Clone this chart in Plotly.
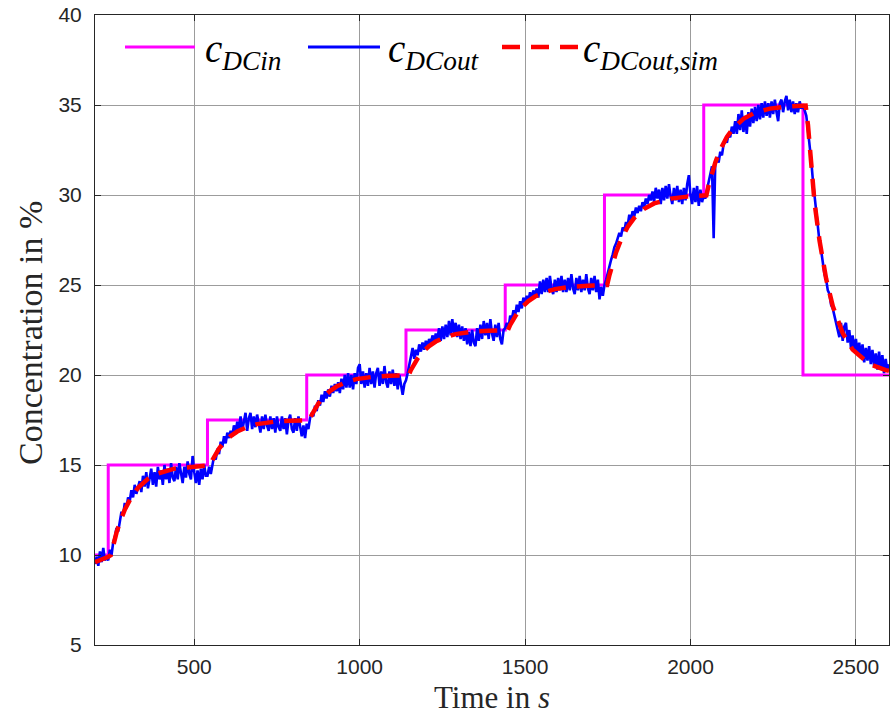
import numpy as np
import plotly.graph_objects as go

# ---- inlet concentration set-points (step profile) ----
t_in = [200, 240, 540, 840, 1140, 1440, 1740, 2040, 2340, 2600]
c_in = [10.0, 15.0, 17.5, 20.0, 22.5, 25.0, 30.0, 35.0, 20.0, 20.0]

# ---- measured outlet concentration, sampled every 5 s from 200 s to 2600 s ----
t_meas_start, t_meas_step = 200, 5
c_out = [
    # 200-235
    9.5, 9.9, 9.4, 10.2, 9.6, 10.4, 9.7, 9.9,
    # 240-535
    9.7, 10.3, 10.0, 10.7, 11.0, 11.5, 11.3, 12.0, 12.4, 12.2,
    12.9, 12.6, 13.2, 13.0, 13.6, 13.2, 13.9, 13.4, 13.8, 14.1,
    13.5, 14.4, 13.8, 14.6, 13.7, 14.3, 14.8, 13.9, 14.6, 13.8,
    14.9, 14.2, 14.7, 13.9, 15.0, 14.2, 14.8, 14.0, 15.1, 14.3,
    14.1, 14.9, 14.2, 15.1, 14.4, 14.0, 14.9, 14.3, 15.2, 14.5,
    14.2, 15.5, 14.6, 14.0, 14.7, 13.9, 14.8, 14.2, 15.0, 14.4,
    # 540-835
    14.4, 14.9, 14.5, 15.1, 15.5, 15.3, 15.9, 15.6, 16.3, 16.0,
    16.6, 16.2, 16.8, 16.5, 16.9, 16.6, 17.2, 16.8, 17.4, 17.0,
    17.7, 16.9, 17.4, 17.9, 16.9, 17.6, 17.9, 17.0, 17.7, 17.1,
    17.8, 17.2, 16.8, 17.7, 17.0, 17.8, 17.2, 16.9, 17.7, 17.0,
    17.6, 16.8, 17.7, 17.1, 16.9, 17.7, 17.0, 17.6, 16.7, 17.5,
    17.8, 17.0, 16.8, 17.6, 16.9, 17.7, 17.1, 16.6, 17.2, 16.5,
    # 840-1135
    17.3, 17.0, 17.6, 17.9, 17.7, 18.3, 18.0, 18.6, 18.3, 18.9,
    18.5, 19.1, 18.7, 19.2, 18.8, 19.4, 19.0, 19.5, 19.1, 19.6,
    19.0, 19.8, 19.2, 20.0, 19.3, 20.1, 19.3, 20.0, 19.2, 20.1,
    19.5, 20.4, 20.6, 19.5, 20.2, 19.3, 20.1, 19.4, 20.4, 19.5,
    20.2, 19.3, 20.1, 20.4, 19.4, 20.2, 19.5, 20.5, 19.6, 19.3,
    20.2, 19.5, 20.3, 19.4, 20.1, 19.2, 20.0, 19.3, 18.9, 19.5,
    # 1140-1435
    19.7, 20.1, 20.6, 21.1, 21.5, 20.9, 21.4, 21.1, 21.7, 21.3,
    21.8, 21.4, 21.9, 21.6, 22.0, 21.7, 22.2, 21.8, 22.3, 22.0,
    22.6, 21.9, 22.7, 22.0, 22.8, 22.1, 23.0, 22.2, 23.1, 22.3,
    22.9, 22.1, 22.8, 22.0, 22.7, 21.9, 22.6, 21.7, 22.4, 21.6,
    22.5, 21.8, 21.6, 22.6, 21.9, 22.8, 22.0, 23.0, 22.2, 22.9,
    22.0, 23.1, 22.3, 21.9, 22.8, 22.1, 22.9, 22.0, 21.7, 22.5,
    # 1440-1735
    22.6, 22.9, 22.6, 23.3, 23.1, 23.6, 23.3, 23.9, 23.5, 24.1,
    23.7, 24.3, 23.9, 24.4, 24.1, 24.6, 24.2, 24.7, 24.3, 24.8,
    24.3, 25.2, 24.5, 25.3, 24.6, 25.4, 24.6, 25.5, 24.8, 24.5,
    25.3, 24.6, 25.4, 24.7, 25.5, 24.6, 25.3, 24.6, 25.4, 24.7,
    25.6, 24.8, 24.5, 25.4, 24.7, 25.5, 24.6, 25.3, 24.7, 25.6,
    24.8, 24.5, 25.4, 24.7, 25.5, 24.6, 25.3, 24.2, 24.9, 24.4,
    # 1740-2035
    25.0, 25.3, 25.7, 26.0, 26.4, 26.7, 27.1, 27.3, 27.6, 27.9,
    27.7, 28.2, 28.0, 28.5, 28.3, 28.9, 28.6, 29.1, 28.8, 29.3,
    29.0, 29.4, 29.1, 29.6, 29.3, 29.8, 29.5, 30.0, 29.7, 30.2,
    29.6, 30.4, 29.8, 30.3, 29.5, 30.4, 29.7, 30.5, 29.8, 30.6,
    29.9, 29.5, 30.4, 29.7, 30.5, 29.6, 30.3, 29.5, 30.4, 29.7,
    30.6, 31.1, 30.0, 29.5, 30.4, 29.6, 30.5, 29.4, 30.3, 29.6,
    # 2040-2335
    30.0, 29.8, 30.3, 30.7, 31.2, 31.6, 27.6, 31.9, 32.1, 31.8,
    32.4, 32.2, 32.8, 33.1, 32.9, 33.4, 33.2, 33.8, 33.4, 34.1,
    33.4, 34.5, 33.6, 34.7, 33.5, 34.4, 33.4, 34.6, 33.8, 34.8,
    34.0, 34.9, 34.1, 35.0, 34.2, 35.1, 34.3, 35.2, 34.4, 35.1,
    34.3, 35.2, 34.5, 35.3, 34.6, 34.1, 35.1, 35.3, 34.6, 35.2,
    35.5, 34.7, 35.3, 34.6, 35.2, 34.5, 35.1, 34.6, 35.2, 34.8,
    # 2340-2600
    35.0, 34.7, 34.4, 33.6, 32.8, 31.9, 30.8, 29.9, 28.9, 28.3,
    27.4, 26.9, 26.3, 25.6, 25.3, 24.7, 24.5, 23.9, 23.7, 23.3,
    23.0, 22.6, 22.1, 22.9, 21.9, 22.7, 22.9, 21.8, 22.5, 21.5,
    22.2, 21.3, 22.0, 21.2, 21.8, 21.0, 21.7, 20.7, 21.5, 20.8,
    21.6, 20.6, 21.4, 20.5, 21.2, 20.3, 21.3, 20.4, 21.1, 20.1,
    20.9, 20.2, 20.6,
]
t_meas = np.arange(len(c_out)) * t_meas_step + t_meas_start

# ---- simulated outlet concentration ----
t_sim = [
    200, 230,
    240, 248, 255, 265, 275, 290, 310, 330, 360, 390, 440, 490,
    540, 548, 555, 565, 575, 590, 610, 630, 660, 690, 740, 790,
    840, 848, 855, 865, 875, 890, 910, 930, 960, 990, 1040, 1090,
    1140, 1148, 1155, 1165, 1175, 1190, 1210, 1230, 1260, 1290, 1340, 1390,
    1440, 1448, 1455, 1465, 1475, 1490, 1510, 1530, 1560, 1590, 1640, 1690,
    1740, 1748, 1755, 1765, 1775, 1790, 1810, 1830, 1860, 1890, 1940, 1990,
    2040, 2048, 2055, 2065, 2075, 2090, 2110, 2130, 2160, 2190, 2240, 2290,
    2340, 2348, 2355, 2365, 2375, 2390, 2410, 2430, 2460, 2490, 2540, 2590, 2600,
]
c_sim = [
    9.6, 9.8,
    9.9, 10.0, 10.55, 11.24, 11.81, 12.52, 13.22, 13.73, 14.23, 14.53, 14.80, 14.91,
    14.97, 14.98, 15.28, 15.62, 15.91, 16.26, 16.61, 16.86, 17.11, 17.27, 17.40, 17.46,
    17.48, 17.49, 17.78, 18.12, 18.41, 18.76, 19.11, 19.36, 19.61, 19.77, 19.90, 19.96,
    19.98, 19.99, 20.28, 20.62, 20.91, 21.26, 21.61, 21.86, 22.11, 22.27, 22.40, 22.46,
    22.48, 22.49, 22.78, 23.12, 23.41, 23.76, 24.11, 24.36, 24.61, 24.77, 24.90, 24.96,
    24.98, 25.00, 25.55, 26.24, 26.81, 27.52, 28.22, 28.73, 29.23, 29.53, 29.80, 29.91,
    29.96, 29.98, 30.55, 31.24, 31.81, 32.52, 33.22, 33.73, 34.23, 34.53, 34.80, 34.91,
    34.96, 34.97, 33.90, 31.60, 29.57, 27.46, 25.34, 23.83, 22.33, 21.41, 20.62, 20.27, 20.23,
]

# ---- axis ticks ----
x_ticks = [500, 1000, 1500, 2000, 2500]
y_ticks = [5, 10, 15, 20, 25, 30, 35, 40]

MAGENTA = "#ff00ff"
BLUE = "#0000ff"
RED = "#ff0000"
AXIS = "#262626"
GRID = "#9c9c9c"
SERIF = "Liberation Serif, DejaVu Serif, serif"
SANS = "Liberation Sans, Arial, sans-serif"
RED_DASH = "18px,11px"

fig = go.Figure()
fig.add_trace(go.Scatter(
    x=t_in, y=c_in, mode="lines", line=dict(color=MAGENTA, width=3, shape="hv"),
    name="c_DCin", showlegend=False))
fig.add_trace(go.Scatter(
    x=t_meas, y=c_out, mode="lines", line=dict(color=BLUE, width=2.6),
    name="c_DCout", showlegend=False))
fig.add_trace(go.Scatter(
    x=t_sim, y=c_sim, mode="lines", line=dict(color=RED, width=4.5, dash=RED_DASH),
    name="c_DCout,sim", showlegend=False))

axis_common = dict(
    showline=True, linecolor=AXIS, linewidth=1, mirror="ticks",
    ticks="inside", ticklen=6, tickcolor=AXIS, tickwidth=1,
    showgrid=True, gridcolor=GRID, gridwidth=1, zeroline=False,
    tickfont=dict(family=SANS, size=21, color=AXIS),
)
fig.update_xaxes(range=[200, 2600], tickvals=x_ticks, ticklabelstandoff=3, **axis_common)
fig.update_yaxes(range=[5, 40], tickvals=y_ticks, ticklabelstandoff=8, **axis_common)

# Legend drawn as key lines plus math-style labels across the top of the axes
W, H = 794.0, 630.0
def px(xp):
    return (xp - 95) / W
def py(yp):
    return (645 - yp) / H

legend_items = [
    (125, 195, dict(color=MAGENTA, width=3), "<i>c</i><sub><i>DCin</i></sub>", 203),
    (308, 380, dict(color=BLUE, width=3), "<i>c</i><sub><i>DCout</i></sub>", 386),
    (502, 578, dict(color=RED, width=4.5, dash=RED_DASH), "<i>c</i><sub><i>DCout,sim</i></sub>", 581),
]
for x0, x1, ln, label, xt in legend_items:
    fig.add_shape(type="line", xref="paper", yref="paper",
                  x0=px(x0), x1=px(x1), y0=py(47), y1=py(47), line=ln)
    fig.add_annotation(xref="paper", yref="paper", x=px(xt), y=py(51),
                       xanchor="left", yanchor="middle", showarrow=False,
                       text=label, font=dict(family=SERIF, size=39, color="#000000"))

# Axis titles
fig.add_annotation(xref="paper", yref="paper", x=0.5, y=py(697),
                   xanchor="center", yanchor="middle", showarrow=False,
                   text="Time in <i>s</i>", font=dict(family=SERIF, size=31, color=AXIS))
fig.add_annotation(xref="paper", yref="paper", x=px(30), y=py(333),
                   xanchor="center", yanchor="middle", showarrow=False, textangle=-90,
                   text="Concentration in %", font=dict(family=SERIF, size=34, color=AXIS))

fig.update_layout(
    width=891, height=720,
    margin=dict(l=95, r=2, t=15, b=75),
    paper_bgcolor="white", plot_bgcolor="white",
    showlegend=False,
)

fig.write_html("out.html")
